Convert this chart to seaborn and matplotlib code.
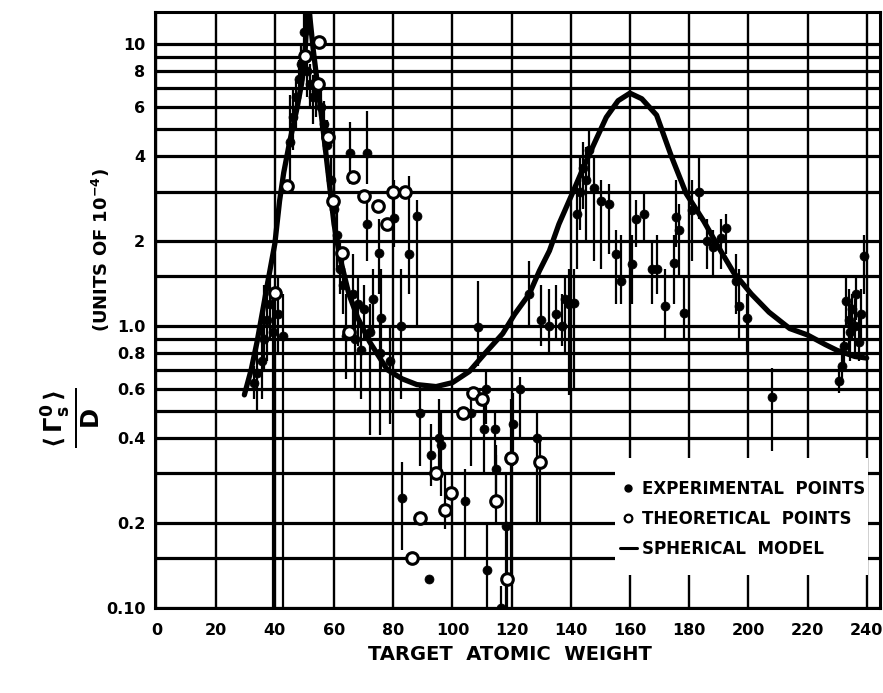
import numpy as np
import pandas as pd
import matplotlib
matplotlib.use("Agg")
import matplotlib.pyplot as plt
from matplotlib.lines import Line2D
from matplotlib.patches import Rectangle
from matplotlib.ticker import NullFormatter, FixedLocator
import seaborn as sns

# ---------------------------------------------------------------- data
# Spherical-model curve: target atomic weight vs <Gamma_s^0>/D (units of 1e-4)
model_A = [29.7, 32, 34, 36, 37.5, 40, 41.6, 43, 45, 47.3, 49, 50, 50.7, 51.3,
           52, 53, 54, 56, 58, 60, 62, 65, 68, 72, 78, 83, 88, 94.5, 100,
           105.7, 111, 117, 121, 126, 129.4, 132.8, 136, 140.5, 145, 149, 152,
           156, 160, 164, 169, 174, 179, 185, 190, 195, 201, 207, 214, 220,
           226, 230, 236, 240]
model_val = [0.57, 0.7, 0.88, 1.15, 1.41, 1.96, 2.78, 3.5, 4.5, 5.8, 7.2, 8.6,
             11.5, 14.5, 12.0, 9.5, 7.8, 5.3, 3.5, 2.3, 1.75, 1.3, 1.07, 0.88,
             0.7, 0.65, 0.62, 0.61, 0.63, 0.69, 0.8, 0.94, 1.1, 1.3, 1.57, 1.85,
             2.3, 2.95, 3.8, 4.7, 5.5, 6.3, 6.7, 6.4, 5.6, 4.0, 2.95, 2.35, 1.9,
             1.55, 1.3, 1.12, 0.98, 0.93, 0.86, 0.82, 0.78, 0.77]

# Experimental points: position, value, lower and upper end of the error bar
exp_A = [33, 34, 35.5, 36.5, 37.5, 38.5, 39.5, 41, 42.6,
         45, 46, 47, 48, 49, 50, 51, 52, 53, 54, 55.5, 56.5, 57.5, 59, 60, 61,
         62, 63,
         65.5, 71, 71, 75.3, 80.4, 85.5, 88, 66.5, 68, 70, 73, 76, 64, 67, 69,
         72, 82.7, 79, 75.5,
         88.9, 92.6, 95.6, 96.3, 82.8, 104.4, 92.2, 106.4, 108.5, 110.8, 111.5,
         111.8, 114.5, 114.9, 118.2, 116.5, 120.6, 123, 128.7,
         126, 130, 132.5, 135, 137, 138, 139.5, 141, 142, 143, 144, 145, 146.3,
         148, 150.3, 153, 155.4, 157, 160.8, 162, 164.9, 167.6, 169, 172, 175,
         175.7, 176.7, 178.4, 181, 183.4, 186, 188, 190.8, 192.5, 196, 197,
         199.6,
         208, 230.7, 231.5, 232.5, 233, 234, 234.5, 235, 236, 236.5, 237.5,
         238, 239]
exp_val = [0.63, 0.68, 0.75, 0.9, 1.05, 1.2, 0.95, 1.1, 0.92,
           4.5, 5.5, 6.5, 7.5, 8.5, 11.0, 8.0, 7.2, 6.5, 6.8, 6.0, 5.2, 4.4,
           3.3, 2.6, 2.1, 1.6, 1.4,
           4.1, 4.1, 2.3, 1.82, 2.42, 1.8, 2.45, 1.3, 1.2, 1.15, 1.25, 1.07,
           0.92, 0.9, 0.82, 0.95, 1.0, 0.75, 0.8,
           0.49, 0.35, 0.4, 0.38, 0.246, 0.24, 0.127, 0.49, 0.99, 0.43, 0.6,
           0.136, 0.43, 0.31, 0.195, 0.1, 0.45, 0.6, 0.4,
           1.3, 1.05, 1.0, 1.1, 1.0, 1.25, 1.2, 1.21, 2.5, 3.0, 3.65, 3.3, 4.2,
           3.1, 2.77, 2.7, 1.8, 1.45, 1.66, 2.4, 2.5, 1.6, 1.6, 1.18, 1.67,
           2.43, 2.2, 1.11, 2.57, 3.0, 2.0, 1.9, 2.05, 2.23, 1.45, 1.18, 1.07,
           0.56, 0.64, 0.72, 0.85, 1.23, 1.05, 0.95, 1.15, 1.0, 1.3, 0.88,
           1.1, 1.77]
exp_lo = [0.55, 0.5, 0.55, 0.7, 0.75, 0.9, 0.1, 0.8, 0.1,
          3.3, 4.2, 5.0, 6.0, 7.0, 9.5, 6.5, 6.0, 5.2, 5.5, 5.0, 4.2, 3.5, 2.6,
          2.0, 1.6, 1.3, 1.1,
          3.2, 3.2, 1.7, 1.3, 1.9, 1.3, 1.0, 1.0, 0.85, 0.9, 0.95, 0.7, 0.65,
          0.6, 0.55, 0.41, 0.55, 0.45, 0.41,
          0.32, 0.27, 0.3, 0.25, 0.16, 0.15, 0.127, 0.32, 0.72, 0.3, 0.45,
          0.1, 0.3, 0.24, 0.1, 0.1, 0.32, 0.4, 0.2,
          1.0, 0.85, 0.8, 0.9, 0.85, 0.8, 0.57, 0.6, 1.6, 2.2, 2.6, 2.0, 3.2,
          1.7, 1.6, 1.8, 1.2, 1.2, 1.2, 1.9, 2.0, 1.2, 1.3, 0.9, 1.2, 1.9,
          1.5, 0.9, 1.7, 2.4, 1.6, 1.5, 1.6, 1.8, 1.1, 0.9, 0.8,
          0.36, 0.58, 0.62, 0.7, 1.0, 0.8, 0.75, 0.9, 0.8, 1.05, 0.75, 0.9,
          1.3]
exp_hi = [0.72, 0.85, 1.0, 1.4, 1.45, 1.5, 1.25, 1.5, 1.3,
          6.6, 7.0, 7.5, 8.8, 10.0, 13.0, 9.5, 8.5, 7.8, 8.0, 7.0, 6.3, 5.4,
          4.0, 3.2, 2.7, 2.0, 1.8,
          5.3, 5.8, 3.0, 2.4, 3.3, 3.4, 2.8, 1.8, 1.5, 1.4, 1.6, 1.6, 1.3,
          1.15, 1.0, 1.2, 1.6, 1.0, 1.05,
          0.62, 0.45, 0.55, 0.5, 0.33, 0.31, 0.127, 0.6, 1.45, 0.52, 0.7,
          0.2, 0.5, 0.38, 0.3, 0.12, 0.58, 0.66, 0.5,
          1.7, 1.4, 1.35, 1.4, 1.3, 1.5, 1.6, 1.6, 3.3, 4.0, 4.5, 4.3, 4.9,
          4.0, 3.3, 3.2, 2.2, 2.1, 2.1, 2.8, 3.0, 2.0, 2.1, 1.6, 2.1, 3.3,
          2.7, 1.5, 3.3, 4.0, 2.4, 2.2, 2.4, 2.5, 1.8, 1.6, 1.3,
          0.71, 0.72, 0.85, 1.0, 1.5, 1.35, 1.2, 1.3, 1.25, 1.5, 1.1, 1.35,
          2.1]

# Theoretical points
theo_A = [40.2, 44, 50.3, 54.5, 55, 58, 59.5, 62.8, 65, 66.5, 70, 74.7, 78,
          79.8, 84, 107, 110, 103.7, 119.9, 129.7, 94.3, 99.6, 97.6, 114.8,
          89.2, 86.5, 118.6]
theo_val = [1.31, 3.15, 9.1, 7.2, 10.2, 4.7, 2.78, 1.82, 0.95, 3.37, 2.9,
            2.67, 2.3, 3.0, 3.0, 0.58, 0.55, 0.49, 0.34, 0.33, 0.3, 0.256,
            0.223, 0.24, 0.208, 0.15, 0.127]
theo_lo = [1.31, 3.15, 9.1, 7.2, 10.2, 4.7, 2.78, 1.82, 0.95, 3.37, 2.9,
           2.67, 2.3, 3.0, 3.0, 0.58, 0.55, 0.49, 0.12, 0.2, 0.3, 0.256,
           0.19, 0.2, 0.208, 0.15, 0.1]
theo_hi = [1.31, 3.15, 9.1, 7.2, 10.2, 4.7, 2.78, 1.82, 0.95, 3.37, 2.9,
           2.67, 2.3, 3.0, 3.0, 0.58, 0.55, 0.49, 0.55, 0.4, 0.3, 0.256,
           0.3, 0.35, 0.208, 0.15, 0.2]

x_ticks = list(range(0, 241, 20))
y_major = [0.1, 0.2, 0.4, 0.6, 0.8, 1.0, 2, 4, 6, 8, 10]
y_major_labels = ["0.10", "0.2", "0.4", "0.6", "0.8", "1.0", "2", "4", "6", "8", "10"]
y_minor = [0.15, 0.3, 0.5, 0.7, 0.9, 1.5, 3, 5, 7, 9]

# ---------------------------------------------------------------- style
sns.set_theme(style="white")
plt.rcParams["font.family"] = ["DejaVu Sans"]
plt.rcParams["font.weight"] = "bold"
plt.rcParams["text.color"] = "black"
plt.rcParams["axes.labelcolor"] = "black"
plt.rcParams["xtick.color"] = "black"
plt.rcParams["ytick.color"] = "black"
plt.rcParams["mathtext.fontset"] = "custom"
plt.rcParams["mathtext.rm"] = "DejaVu Sans:bold"
plt.rcParams["mathtext.it"] = "DejaVu Sans:bold"
plt.rcParams["mathtext.bf"] = "DejaVu Sans:bold"

W, H = 883, 693
fig = plt.figure(figsize=(W / 100, H / 100), dpi=100)
ax = fig.add_axes([155 / W, 1 - 608 / H, (880 - 155) / W, (608 - 12) / H])

model = pd.DataFrame({"A": model_A, "val": model_val})
exp = pd.DataFrame({"A": exp_A, "val": exp_val, "lo": exp_lo, "hi": exp_hi})
theo = pd.DataFrame({"A": theo_A, "val": theo_val, "lo": theo_lo, "hi": theo_hi})

ax.set_yscale("log")
ax.set_xlim(-0.5, 244.5)
ax.set_ylim(0.1, 13)

# error bars
ax.vlines(exp["A"], exp["lo"], exp["hi"], color="black", lw=1.6, zorder=3)
ax.vlines(theo["A"], theo["lo"], theo["hi"], color="black", lw=1.6, zorder=3)

sns.lineplot(data=model, x="A", y="val", ax=ax, color="black", lw=3.8,
             estimator=None, sort=False, zorder=4, legend=False)
sns.scatterplot(data=exp, x="A", y="val", ax=ax, color="black", s=42,
                edgecolor="black", linewidth=0.5, zorder=5, legend=False)
sns.scatterplot(data=theo, x="A", y="val", ax=ax, facecolor="white", s=70,
                edgecolor="black", linewidth=2.2, zorder=6, legend=False)

# grid
ax.xaxis.set_major_locator(FixedLocator(x_ticks))
ax.yaxis.set_major_locator(FixedLocator(y_major))
ax.yaxis.set_minor_locator(FixedLocator(y_minor))
ax.set_yticklabels(y_major_labels)
ax.yaxis.set_minor_formatter(NullFormatter())
ax.set_axisbelow(True)
ax.yaxis.grid(True, which="both", color="black", lw=2.3)
ax.xaxis.grid(True, which="major", color="black", lw=1.7)
ax.tick_params(axis="both", which="both", length=0, colors="black")
ax.tick_params(axis="x", pad=11, labelsize=11.5)
ax.tick_params(axis="y", pad=7, labelsize=11.5)
for lab in ax.get_xticklabels() + ax.get_yticklabels():
    lab.set_fontweight("bold")
    lab.set_color("black")
for sp in ax.spines.values():
    sp.set_color("black")
    sp.set_linewidth(2.2)
ax.set_xlabel("")
ax.set_ylabel("")

# white panel holding the key
ax.add_patch(Rectangle(((615 - 155) / 725, (608 - 575) / 596),
                       (868 - 615) / 725, (575 - 458) / 596,
                       transform=ax.transAxes, facecolor="white",
                       edgecolor="none", zorder=7))
handles = [
    Line2D([], [], ls="none", marker="o", ms=5, color="black"),
    Line2D([], [], ls="none", marker="o", ms=5.5, mfc="white", mec="black", mew=1.6),
    Line2D([], [], color="black", lw=2.2),
]
labels = ["EXPERIMENTAL  POINTS", "THEORETICAL  POINTS", "SPHERICAL  MODEL"]
leg = ax.legend(handles, labels, loc="upper left",
                bbox_to_anchor=((620 - 155) / 725, (608 - 480) / 596),
                frameon=False, handlelength=1.0, handletextpad=0.3,
                labelspacing=0.72, borderaxespad=0, borderpad=0,
                prop={"size": 12, "weight": "bold"})
leg.set_zorder(8)
for t in leg.get_texts():
    t.set_color("black")

# axis titles
fig.text(510 / W, 1 - 655 / H, "TARGET  ATOMIC  WEIGHT", ha="center",
         va="center", fontsize=14, fontweight="bold", color="black")
fig.text(101 / W, 1 - 250 / H, r"(UNITS OF 10$^{-4}$)", rotation=90,
         ha="center", va="center", fontsize=13, fontweight="bold", color="black")
fig.text(70 / W, 1 - 418 / H, r"$\frac{\langle\,\Gamma_s^0\,\rangle}{D}$",
         rotation=90, ha="center", va="center", fontsize=25, color="black")

fig.savefig("out.png", dpi=100, facecolor="white")
